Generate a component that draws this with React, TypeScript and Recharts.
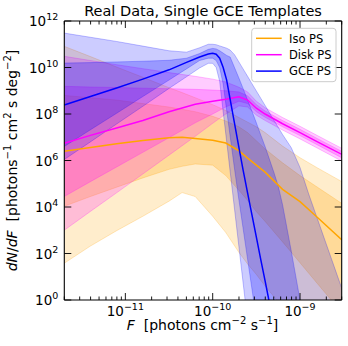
import React from 'react';
import { ComposedChart, Area, Line, XAxis, YAxis } from 'recharts';

const FONT = '"DejaVu Sans", sans-serif';

// ---------- data (log10 F  ->  log10 dN/dF) ----------
// Iso PS
const isoLogF = [-11.7, -11.4, -11.1, -10.8, -10.5, -10.35, -10.2, -10.0, -9.85, -9.7, -9.6, -9.5, -9.4, -9.2, -9.0, -8.8, -8.52];
const isoMedian = [6.40, 6.56, 6.72, 6.86, 6.98, 7.00, 6.95, 6.87, 6.75, 6.42, 6.10, 5.80, 5.50, 4.76, 4.23, 3.55, 2.58];
const isoOuterHi = [10.91, 10.47, 10.02, 9.58, 9.13, 8.92, 8.70, 8.40, 8.15, 7.85, 7.65, 7.45, 7.20, 6.62, 6.12, 5.68, 5.09];
const isoInnerHi = [8.80, 8.70, 8.60, 8.45, 8.30, 8.20, 8.10, 7.90, 7.70, 7.45, 7.20, 6.85, 6.50, 5.90, 5.35, 4.85, 4.15];
const isoInnerLo = [4.03, 4.45, 4.85, 5.25, 5.62, 5.75, 5.85, 5.80, 5.35, 4.72, 4.28, 3.80, 3.38, 2.50, 1.60, 0.70, -0.55];
const isoOuterLo = [1.58, 2.32, 2.98, 3.60, 4.25, 4.62, 4.45, 3.60, 2.90, 2.05, 1.55, 1.10, 0.60, -0.30, -1.20, -2.10, -3.30];

// Disk PS
const diskLogF = [-11.7, -11.4, -11.1, -10.8, -10.5, -10.2, -10.0, -9.85, -9.7, -9.6, -9.5, -9.4, -9.2, -9.0, -8.8, -8.52];
const diskMedian = [6.74, 7.08, 7.40, 7.72, 8.10, 8.42, 8.55, 8.63, 8.74, 8.60, 8.25, 8.00, 7.58, 7.20, 6.80, 6.26];
const diskOuterHi = [10.48, 10.30, 10.12, 9.95, 9.78, 9.62, 9.50, 9.38, 9.15, 8.95, 8.55, 8.27, 7.85, 7.47, 7.07, 6.52];
const diskInnerHi = [9.19, 9.16, 9.14, 9.11, 9.09, 9.06, 9.03, 9.00, 8.95, 8.78, 8.40, 8.13, 7.72, 7.34, 6.94, 6.39];
const diskInnerLo = [4.45, 5.09, 5.72, 6.35, 6.98, 7.62, 8.00, 8.30, 8.55, 8.45, 8.10, 7.86, 7.45, 7.07, 6.67, 6.11];
const diskOuterLo = [3.00, 3.81, 4.61, 5.42, 6.23, 7.04, 7.60, 8.00, 8.35, 8.30, 7.95, 7.72, 7.31, 6.93, 6.53, 5.97];

// GCE PS
const gceLogF = [-11.7, -11.4, -11.1, -10.8, -10.5, -10.3, -10.15, -10.05, -10.0, -9.96, -9.92, -9.88, -9.84, -9.8, -9.75, -9.7, -9.65, -9.6, -9.55, -9.5, -9.45, -9.4, -9.35, -9.3, -9.25, -9.2, -9.1, -9.0, -8.9, -8.8, -8.7, -8.6, -8.52];
const gceMedian = [8.39, 8.75, 9.12, 9.50, 9.90, 10.22, 10.45, 10.58, 10.61, 10.57, 10.40, 10.00, 9.46, 8.63, 7.60, 6.56, 5.55, 4.60, 3.65, 2.70, 1.75, 0.82, -0.13, -1.08, null, null, null, null, null, null, null, null, null];
const gceOuterHi = [11.48, 11.30, 11.12, 10.92, 10.72, 10.66, 10.85, 11.00, 11.00, 10.98, 10.93, 10.88, 10.83, 10.75, 10.55, 10.24, 9.93, 9.62, 9.30, 8.99, 8.68, 8.37, 8.05, 7.74, 7.43, 7.12, 6.55, 5.70, 4.55, 3.48, 2.41, 1.34, 0.48];
const gceInnerHi = [10.19, 10.21, 10.24, 10.27, 10.31, 10.40, 10.60, 10.78, 10.82, 10.80, 10.72, 10.62, 10.52, 10.45, 10.00, 9.55, 9.08, 8.60, 8.12, 7.62, 7.10, 6.60, 6.05, 5.50, 4.90, 4.10, 2.10, 0.00, -2.00, null, null, null, null];
const gceInnerLo = [6.60, 7.32, 8.03, 8.75, 9.46, 9.94, 10.30, 10.40, 10.40, 10.30, 10.00, 9.29, 8.16, 7.04, 5.64, 4.31, 3.03, 1.74, 0.46, -0.83, -1.5, -1.5, -1.5, -1.5, -1.5, -1.5, -1.5, -1.5, -1.5, null, null, null, null];
const gceOuterLo = [6.04, 6.80, 7.57, 8.33, 9.10, 9.60, 9.98, 10.18, 10.18, 10.00, 9.40, 8.10, 6.82, 5.53, 3.91, 2.30, 0.68, -0.93, -1.5, -1.5, -1.5, -1.5, -1.5, -1.5, -1.5, -1.5, -1.5, -1.5, -1.5, -1.5, -1.5, -1.5, -1.5];

// ticks
const xTicks = [
  2e-12, 3e-12, 4e-12, 5e-12, 6e-12, 7e-12, 8e-12, 9e-12,
  1e-11, 2e-11, 3e-11, 4e-11, 5e-11, 6e-11, 7e-11, 8e-11, 9e-11,
  1e-10, 2e-10, 3e-10, 4e-10, 5e-10, 6e-10, 7e-10, 8e-10, 9e-10,
  1e-9, 2e-9, 3e-9,
];
const yTicks = [1, 1e2, 1e4, 1e6, 1e8, 1e10, 1e12];

const seriesNames = ['Iso PS', 'Disk PS', 'GCE PS'];
const seriesColors = ['#FFA500', '#FF00FF', '#0000FF'];

// ---------- build tables ----------
const pow = (v: number | null) => (v == null ? null : Math.pow(10, v));
function buildRows(logF: number[], med: (number | null)[], inLo: (number | null)[], inHi: (number | null)[], outLo: (number | null)[], outHi: (number | null)[]) {
  return logF.map((lf, i) => ({
    f: Math.pow(10, lf),
    med: pow(med[i]),
    inner: inLo[i] == null || inHi[i] == null ? null : [pow(inLo[i]), pow(inHi[i])],
    outer: outLo[i] == null || outHi[i] == null ? null : [pow(outLo[i]), pow(outHi[i])],
  }));
}
const isoRows = buildRows(isoLogF, isoMedian, isoInnerLo, isoInnerHi, isoOuterLo, isoOuterHi);
const diskRows = buildRows(diskLogF, diskMedian, diskInnerLo, diskInnerHi, diskOuterLo, diskOuterHi);
const gceRows = buildRows(gceLogF, gceMedian, gceInnerLo, gceInnerHi, gceOuterLo, gceOuterHi);
const allRows = [isoRows, diskRows, gceRows];

// ---------- ticks ----------
const XTick = (props: any) => {
  const { x, y, payload, side } = props;
  const v = payload.value;
  const e = Math.round(Math.log10(v));
  const major = Math.abs(v / Math.pow(10, e) - 1) < 1e-6;
  const len = major ? 7 : 3.5;
  const dir = side === 'bottom' ? -1 : 1;
  return (
    <g>
      <line x1={x} x2={x} y1={y} y2={y + dir * len} stroke="#000" strokeWidth={0.9} />
      {major && side === 'bottom' ? (
        <text x={x} y={y + 15.5} textAnchor="middle" fontSize={13.5} fontFamily={FONT} fill="#000">
          10<tspan dy={-6} fontSize={9.5}>{`\u2212${Math.abs(e)}`}</tspan>
        </text>
      ) : null}
    </g>
  );
};

const YTick = (props: any) => {
  const { x, y, payload, side } = props;
  const e = Math.round(Math.log10(payload.value));
  const dir = side === 'left' ? 1 : -1;
  return (
    <g>
      <line x1={x} x2={x + dir * 7} y1={y} y2={y} stroke="#000" strokeWidth={0.9} />
      {side === 'left' ? (
        <text x={x - 6} y={y + 5} textAnchor="end" fontSize={13.5} fontFamily={FONT} fill="#000">
          10<tspan dy={-6} fontSize={9.5}>{`${e}`}</tspan>
        </text>
      ) : null}
    </g>
  );
};

export default function App() {
  const common = { isAnimationActive: false, xAxisId: 'b', yAxisId: 'l' } as const;
  return (
    <div style={{ position: 'absolute', left: 0, top: 0, width: 348, height: 346, background: '#fff' }}>
      <ComposedChart width={348} height={346} data={gceRows} margin={{ top: 20, right: 5.3, bottom: 16, left: 14.3 }}>
        <XAxis xAxisId="b" dataKey="f" type="number" scale="log" domain={[2e-12, 3e-9]} allowDataOverflow ticks={xTicks} interval={0}
          tickSize={0} tickMargin={0} tickLine={false} axisLine={{ stroke: '#000', strokeWidth: 1.1 }} height={30} orientation="bottom"
          tick={(p: any) => <XTick {...p} side="bottom" />} />
        <XAxis xAxisId="t" dataKey="f" type="number" scale="log" domain={[2e-12, 3e-9]} allowDataOverflow ticks={xTicks} interval={0}
          tickSize={0} tickMargin={0} tickLine={false} axisLine={{ stroke: '#000', strokeWidth: 1.1 }} height={1} orientation="top"
          tick={(p: any) => <XTick {...p} side="top" />} />
        <YAxis yAxisId="l" type="number" scale="log" domain={[1, 1e12]} allowDataOverflow ticks={yTicks} interval={0}
          tickSize={0} tickMargin={0} tickLine={false} axisLine={{ stroke: '#000', strokeWidth: 1.1 }} width={50} orientation="left"
          tick={(p: any) => <YTick {...p} side="left" />} />
        <YAxis yAxisId="r" type="number" scale="log" domain={[1, 1e12]} allowDataOverflow ticks={yTicks} interval={0}
          tickSize={0} tickMargin={0} tickLine={false} axisLine={{ stroke: '#000', strokeWidth: 1.1 }} width={1} orientation="right"
          tick={(p: any) => <YTick {...p} side="right" />} />
        {allRows.map((rows, k) => [
          <Area key={`o${k}`} {...common} data={rows} dataKey="outer" type="linear" stroke={seriesColors[k]} strokeOpacity={0.3} strokeWidth={0.8}
            fill={seriesColors[k]} fillOpacity={0.2} legendType="none" dot={false} activeDot={false} />,
          <Area key={`i${k}`} {...common} data={rows} dataKey="inner" type="linear" stroke={seriesColors[k]} strokeOpacity={0.3} strokeWidth={0.8}
            fill={seriesColors[k]} fillOpacity={0.25} legendType="none" dot={false} activeDot={false} />,
          <Line key={`m${k}`} {...common} data={rows} dataKey="med" type="linear" stroke={seriesColors[k]} strokeWidth={1.5}
            dot={false} activeDot={false} name={seriesNames[k]} />,
        ])}
      </ComposedChart>
      <svg width={348} height={346} style={{ position: 'absolute', left: 0, top: 0, pointerEvents: 'none' }}>
        <text x={203} y={15.5} textAnchor="middle" fontSize={14.5} fontFamily={FONT} fill="#000">Real Data, Single GCE Templates</text>
        <text x={202.5} y={330} textAnchor="middle" fontSize={14} fontFamily={FONT} fill="#000" style={{ whiteSpace: 'pre' }}>
          <tspan fontStyle="italic">F</tspan>{'  [photons cm'}<tspan dy={-6} fontSize={10}>{'\u22122'}</tspan><tspan dy={6}>{' s'}</tspan><tspan dy={-6} fontSize={10}>{'\u22121'}</tspan><tspan dy={6}>]</tspan>
        </text>
        <text transform="translate(17,160.5) rotate(-90)" textAnchor="middle" fontSize={14} fontFamily={FONT} fill="#000" style={{ whiteSpace: 'pre' }}>
          <tspan fontStyle="italic">dN</tspan>/<tspan fontStyle="italic">dF</tspan>{'  [photons'}<tspan dy={-6} fontSize={10}>{'\u22121'}</tspan><tspan dy={6}>{' cm'}</tspan><tspan dy={-6} fontSize={10}>2</tspan><tspan dy={6}>{' s deg'}</tspan><tspan dy={-6} fontSize={10}>{'\u22122'}</tspan><tspan dy={6}>]</tspan>
        </text>
        <g>
          <rect x={251.7} y={28.3} width={84.3} height={53.4} rx={3} fill="#fff" fillOpacity={0.8} stroke="#cccccc" strokeWidth={1} />
          {seriesNames.map((n, i) => (
            <g key={n}>
              <line x1={256} x2={281.7} y1={38.3 + i * 16.4} y2={38.3 + i * 16.4} stroke={seriesColors[i]} strokeWidth={1.5} />
              <text x={289} y={38.3 + i * 16.4 + 4.2} fontSize={11.5} fontFamily={FONT} fill="#000">{n}</text>
            </g>
          ))}
        </g>
      </svg>
    </div>
  );
}
